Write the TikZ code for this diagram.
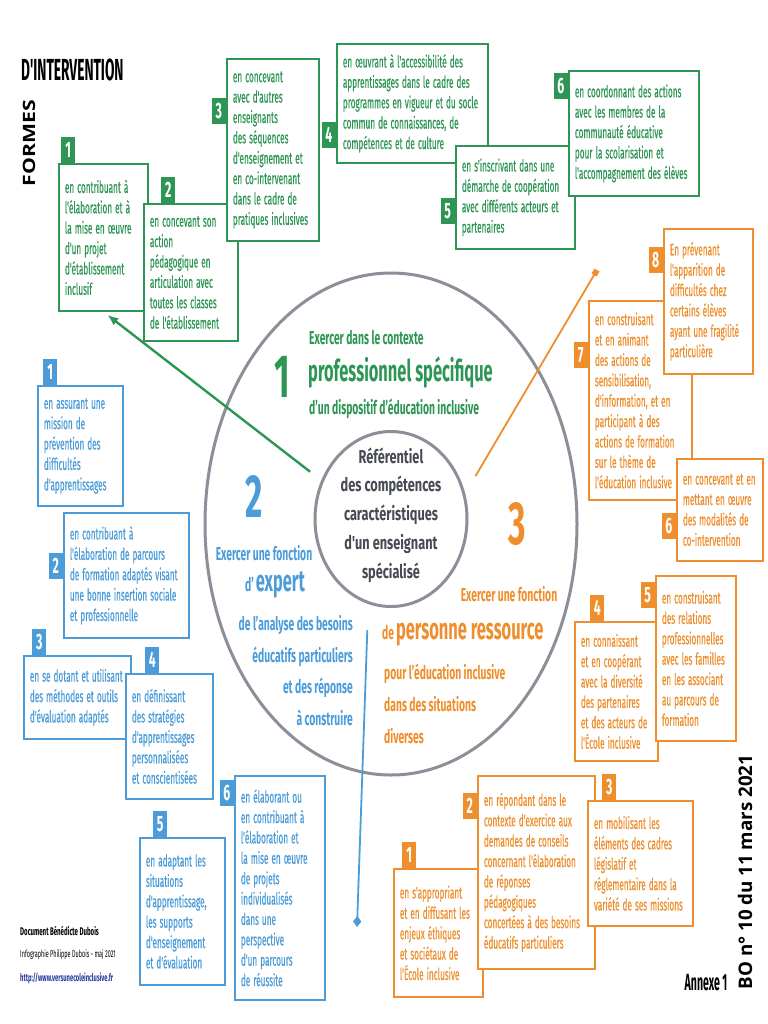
\documentclass[tikz,border=0pt]{standalone}
\usepackage{fontspec}
\setmainfont{Fira Sans}[FakeStretch=0.55]
\newfontfamily\boxfamily{Fira Sans}[FakeStretch=0.5,WordSpace=1.4,FakeBold=0.4]
\newfontfamily\condfont{Fira Sans}[FakeStretch=0.45]
\newfontfamily\ctrfont{Fira Sans}[FakeStretch=0.68]
\newfontfamily\widefont{Open Sans}
\newfontfamily\longfont{Open Sans}[FakeStretch=1.25]
\usetikzlibrary{arrows.meta,positioning,shapes.geometric}
\definecolor{grn}{HTML}{2E9654}
\definecolor{blu}{HTML}{4B9CD9}
\definecolor{org}{HTML}{EE8E2C}
\definecolor{gry}{HTML}{8C8F97}
\definecolor{dgry}{HTML}{474A54}
\definecolor{lnk}{HTML}{2A3B9C}
\newlength\px
\setlength\px{0.03cm}
\newcommand\boxfont{\boxfamily\fontsize{14}{17.4}\selectfont\hyphenpenalty=10000\exhyphenpenalty=10000}
\newcommand\tabfont{\bfseries\fontsize{19}{19}\selectfont}
\newcommand\headfont{\bfseries\fontsize{16}{18}\selectfont}
\newcommand\headlines{\bfseries\fontsize{16}{27}\selectfont}
\newcommand\bigfont{\bfseries\fontsize{25.5}{27}\selectfont}
\newcommand\numfont{\bfseries\fontsize{52}{52}\selectfont}
\newcommand\ctrtext{\ctrfont\bfseries\fontsize{16}{24.6}\selectfont}
\tikzset{
 box/.style={draw,fill=white,line width=1.8\px,anchor=north west,align=flush left,
             inner xsep=6\px,inner ysep=2\px,font=\boxfont},
 gbox/.style={box,draw=grn,text=grn},
 bbox/.style={box,draw=blu,text=blu},
 obox/.style={box,draw=org,text=org},
 tab/.style={inner sep=0pt,minimum width=14\px,minimum height=26\px,text=white,font=\tabfont},
 gtab/.style={tab,fill=grn},
 btab/.style={tab,fill=blu},
 otab/.style={tab,fill=org},
 label/.style={inner sep=0pt},
 glabel/.style={label,text=grn},
 blabel/.style={label,text=blu},
 olabel/.style={label,text=org},
 ring/.style={draw=gry,line width=3\px},
 garrow/.style={draw=grn,line width=2.4\px,-{Latex[length=9.5pt,width=7.5pt]}},
 oline/.style={draw=org,line width=1.8\px,-{Square[length=5pt,width=5pt]}},
 bline/.style={draw=blu,line width=1.8\px,-{Diamond[length=9.5pt,width=7pt]}}
}

\begin{document}
\begin{tikzpicture}[x=0.03cm,y=-0.03cm]
\useasboundingbox (0,0) rectangle (768,1024);

% circles
\draw[ring] (391,524) ellipse [x radius=186,y radius=251];
\node[ellipse,ring,fill=white,minimum width=152\px,minimum height=175\px,inner sep=0pt] (ref) at (391,519) {};
\node[font=\ctrtext,text=dgry,align=center] (reftext) at ([yshift=4\px]ref.center)
  {Référentiel\\des compétences\\caractéristiques\\d'un enseignant\\spécialisé};

% titles
\node[label,anchor=west,font=\condfont\bfseries\fontsize{26}{26}\selectfont] (title) at (21,70) {D'INTERVENTION};
\node[label,rotate=90,font=\longfont\bfseries\fontsize{14.5}{15}\selectfont] (formes) at (29,143) {FORMES};

% 1 : green
\node[glabel,font=\numfont] (g1num) at (282,377) {1};
\node[glabel,anchor=west,font=\headfont] (g1a) at (309,338) {Exercer dans le contexte};
\node[glabel,anchor=west,font=\bigfont] (g1b) at (308,372) {professionnel spécifique};
\node[glabel,anchor=west,font=\headfont] (g1c) at (309,409) {d'un dispositif d'éducation inclusive};

\node[gbox,text width=77\px,minimum height=147\px] (g1) at (58,163)
  {en contribuant à\\l'élaboration et à\\la mise en œuvre\\d'un projet\\d'établissement\\inclusif};
\node[gbox,text width=82\px,minimum height=137\px] (g2) at (143,203)
  {en concevant son\\action\\pédagogique en\\articulation avec\\toutes les classes\\de l'établissement};
\node[gbox,text width=80\px,minimum height=182\px] (g3) at (226,58)
  {en concevant\\avec d'autres\\enseignants\\des séquences\\d'enseignement et\\en co-intervenant\\dans le cadre de\\pratiques inclusives};
\node[gbox,text width=139\px,minimum height=119\px] (g4) at (336,43)
  {en œuvrant à l'accessibilité des\\apprentissages dans le cadre des\\programmes en vigueur et du socle\\commun de connaissances, de\\compétences et de culture};
\node[gbox,text width=107\px,minimum height=103\px] (g5) at (455,145)
  {en s'inscrivant dans une\\démarche de coopération\\avec différents acteurs et\\partenaires};
\node[gbox,text width=118\px,minimum height=125\px] (g6) at (568,70)
  {en coordonnant des actions\\avec les membres de la\\communauté éducative\\pour la scolarisation et\\l'accompagnement des élèves};
\node[gtab,anchor=south west] (g1t) at ([xshift=3\px]g1.north west) {1};
\node[gtab,anchor=south west] (g2t) at ([xshift=18\px]g2.north west) {2};
\node[gtab,anchor=north east] (g3t) at ([yshift=-40\px]g3.north west) {3};
\node[gtab,anchor=north east] (g4t) at ([yshift=-79\px]g4.north west) {4};
\node[gtab,anchor=north east] (g5t) at ([yshift=-53\px]g5.north west) {5};
\node[gtab,anchor=north east] (g6t) at ([yshift=-3\px]g6.north west) {6};

% 2 : blue
\node[blabel,font=\numfont] (b2num) at (254,496) {2};
\node[blabel,font=\headfont] (b2a) at (264,553) {Exercer une fonction};
\node[blabel] (b2b) at (275,585) {{\headfont d'}\,{\bigfont expert}};
\node[blabel,font=\headlines,align=flush right,anchor=north east] (b2c) at (353,615)
  {de l'analyse des besoins\\éducatifs particuliers\\et des réponse\\à construire};

\node[bbox,text width=73\px,minimum height=120\px] (b1) at (37,385)
  {en assurant une\\mission de\\prévention des\\difficultés\\d'apprentissages};
\node[bbox,text width=113\px,minimum height=125\px] (b2) at (63,512)
  {en contribuant à\\l'élaboration de parcours\\de formation adaptés visant\\une bonne insertion sociale\\et professionnelle};
\node[bbox,text width=95\px,minimum height=83\px] (b3) at (23,655)
  {en se dotant et utilisant\\des méthodes et outils\\d'évaluation adaptés};
\node[bbox,text width=75\px,minimum height=125\px] (b4) at (125,673)
  {en définissant\\des stratégies\\d'apprentissages\\personnalisées\\et conscientisées};
\node[bbox,text width=73\px,minimum height=147\px] (b5) at (139,837)
  {en adaptant les\\situations\\d'apprentissage,\\les supports\\d'enseignement\\et d'évaluation};
\node[bbox,text width=78\px,minimum height=224\px] (b6) at (234,775)
  {en élaborant ou\\en contribuant à\\l'élaboration et\\la mise en œuvre\\de projets\\individualisés\\dans une\\perspective\\d'un parcours\\de réussite};
\node[btab,anchor=south west] (b1t) at ([xshift=6\px]b1.north west) {1};
\node[btab,anchor=north east] (b2t) at ([yshift=-41\px]b2.north west) {2};
\node[btab,anchor=south west] (b3t) at ([xshift=9\px]b3.north west) {3};
\node[btab,anchor=south west] (b4t) at ([xshift=20\px]b4.north west) {4};
\node[btab,anchor=south west] (b5t) at ([xshift=14\px]b5.north west) {5};
\node[btab,anchor=north east] (b6t) at ([yshift=-5\px]b6.north west) {6};

% 3 : orange
\node[olabel,font=\numfont] (o3num) at (517,524) {3};
\node[olabel,font=\headfont] (o3a) at (509,594) {Exercer une fonction};
\node[olabel,anchor=west] (o3b) at (382,635) {{\headfont de}\,{\bigfont personne ressource}};
\node[olabel,font=\headlines,align=flush left,anchor=north west] (o3c) at (384,664)
  {pour l'éducation inclusive\\dans des situations\\diverses};

\node[obox,text width=91\px,minimum height=199\px] (o7) at (588,300)
  {en construisant\\et en animant\\des actions de\\sensibilisation,\\d'information, et en\\participant à des\\actions de formation\\sur le thème de\\l'éducation inclusive};
\node[obox,text width=77\px,minimum height=145\px] (o8) at (663,228)
  {En prévenant\\l'apparition de\\difficultés chez\\certains élèves\\ayant une fragilité\\particulière};
\node[obox,text width=74\px,minimum height=102\px] (o6) at (676,458)
  {en concevant et en\\mettant en œuvre\\des modalités de\\co-intervention};
\node[obox,text width=71\px,minimum height=139\px] (o4) at (574,621)
  {en connaissant\\et en coopérant\\avec la diversité\\des partenaires\\et des acteurs de\\l'École inclusive};
\node[obox,text width=68\px,minimum height=165\px] (o5) at (655,575)
  {en construisant\\des relations\\professionnelles\\avec les familles\\en les associant\\au parcours de\\formation};
\node[obox,text width=77\px,minimum height=128\px] (o1) at (393,868)
  {en s'appropriant\\et en diffusant les\\enjeux éthiques\\et sociétaux de\\l'École inclusive};
\node[obox,text width=105\px,minimum height=193\px] (o2) at (477,775)
  {en répondant dans le\\contexte d'exercice aux\\demandes de conseils\\concernant l'élaboration\\de réponses\\pédagogiques\\concertées à des besoins\\éducatifs particuliers};
\node[obox,text width=93\px,minimum height=125\px] (o3) at (587,800)
  {en mobilisant les\\éléments des cadres\\législatif et\\réglementaire dans la\\variété de ses missions};
\node[otab,anchor=north east] (o7t) at ([yshift=-42\px]o7.north west) {7};
\node[otab,anchor=north east] (o8t) at ([yshift=-19\px]o8.north west) {8};
\node[otab,anchor=north east] (o6t) at ([yshift=-55\px]o6.north west) {6};
\node[otab,anchor=south west] (o4t) at ([xshift=16\px]o4.north west) {4};
\node[otab,anchor=north east] (o5t) at ([yshift=-7\px]o5.north west) {5};
\node[otab,anchor=south west] (o1t) at ([xshift=9\px]o1.north west) {1};
\node[otab,anchor=north east] (o2t) at ([yshift=-18\px]o2.north west) {2};
\node[otab,anchor=south west] (o3t) at ([xshift=15\px]o3.north west) {3};

% connectors
\coordinate (osq) at (597,270);
\coordinate (bdia) at (357,927);
\draw[garrow,shorten <=14\px,shorten >=5\px] (ref.151) -- (g1.south);
\draw[oline,shorten <=20\px] (ref.19) -- (osq);
\draw[bline,shorten <=26\px] (ref.255) -- (bdia);

% footer
\node[label,anchor=west,font=\bfseries\fontsize{9.5}{10}\selectfont] (doc) at (20,931) {Document Bénédicte Dubois};
\node[label,anchor=west,font=\fontsize{8.5}{10}\selectfont] (info) at (20,955) {Infographie Philippe Dubois - maj 2021};
\node[label,anchor=west,text=lnk,font=\bfseries\fontsize{9}{10}\selectfont] (url) at (20,978) {http://www.versunecoleinclusive.fr};
\node[label,font=\condfont\bfseries\fontsize{20}{20}\selectfont] (annexe) at (706,983) {Annexe 1};
\node[label,rotate=90,font=\widefont\bfseries\fontsize{16}{16}\selectfont] (bo) at (745,872) {BO n° 10 du 11 mars 2021};
\end{tikzpicture}
\end{document}
